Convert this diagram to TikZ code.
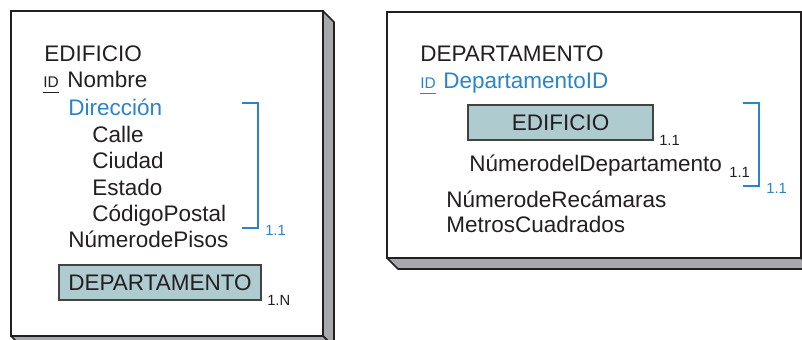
\documentclass[tikz,border=0pt]{standalone}
\usepackage{fontspec}
\setmainfont{Liberation Sans}
\usepackage{tikz}
\usetikzlibrary{positioning}
\definecolor{ink}{RGB}{35,31,32}
\definecolor{idblue}{RGB}{42,132,200}
\definecolor{boxfill}{RGB}{174,203,208}
\definecolor{shadowgray}{RGB}{166,168,171}
\tikzset{
  entbox/.style={draw=ink,line width=1.1pt,fill=white},
  shade3d/.style={draw=ink,line width=1.1pt,fill=shadowgray,line join=round},
  attr/.style={anchor=base west,inner sep=0pt,text=ink,font=\fontsize{16}{19}\selectfont},
  idmark/.style={anchor=base west,inner sep=0pt,text=ink,font=\fontsize{11}{12}\selectfont},
  idline/.style={line width=0.7pt,draw=ink},
  card/.style={anchor=base west,inner sep=0pt,text=ink,font=\fontsize{10.5}{12}\selectfont},
  refbox/.style={draw=ink!85,line width=1pt,fill=boxfill,minimum height=0.875cm,
                 inner sep=0pt,text=ink,font=\fontsize{16}{19}\selectfont},
  bracket/.style={draw=idblue,line width=0.9pt}
}
\begin{document}
\begin{tikzpicture}[x=0.025cm,y=-0.025cm]
  \useasboundingbox (0,0) rectangle (802,340);
  \clip (0,0) rectangle (802,340);

  % EDIFICIO card with its raised edge
  \draw[shade3d] (323,11) -- (334,22) -- (334,347) -- (323,336) -- cycle;
  \draw[shade3d] (11,336) -- (22,347) -- (334,347) -- (323,336) -- cycle;
  \draw[entbox] (11,11) rectangle (323,336);

  \node[attr] (edif) at (44,62) {EDIFICIO};
  \node[idmark] (idA) at (43,88) {ID};
  \draw[idline] ([yshift=-1mm]idA.base west) -- ([yshift=-1mm]idA.base east);
  \node[attr] (nombre) at (67,88) {Nombre};
  \node[attr,text=idblue] (dir) at (68,115.5) {Dirección};
  \foreach \t/\n [count=\i] in {Calle/calle,Ciudad/ciudad,Estado/estado,CódigoPostal/cpostal}
    \node[attr] (\n) at (92,{115.5+26.55*\i}) {\t};
  \draw[bracket] (242,103) -| (258,228) -- (242,228);
  \node[card,text=idblue] (cardA) at (265,236) {1.1};
  \node[attr] (pisos) at (68,248) {NúmerodePisos};
  \node[refbox,minimum width=5.05cm] (deptRef) at (160,282.5) {DEPARTAMENTO};
  \node[card] (cardN) at (267,306) {1.N};

  % DEPARTAMENTO card, runs off the right edge
  \draw[shade3d] (801,12) -- (812,23) -- (812,269) -- (801,258) -- cycle;
  \draw[shade3d] (387,258) -- (398,269) -- (812,269) -- (801,258) -- cycle;
  \draw[entbox] (387,12) rectangle (801,258);

  \node[attr] (dept) at (420,62) {DEPARTAMENTO};
  \node[idmark,text=idblue] (idB) at (420,89) {ID};
  \draw[idline,draw=idblue] ([yshift=-1mm]idB.base west) -- ([yshift=-1mm]idB.base east);
  \node[attr,text=idblue] (deptid) at (443,89) {DepartamentoID};
  \node[refbox,minimum width=4.625cm] (edifRef) at (560.5,122.5) {EDIFICIO};
  \node[card] (cardE) at (659,146) {1.1};
  \node[attr] (numdep) at (469,172) {NúmerodelDepartamento};
  \node[card] (cardD) at (729,178) {1.1};
  \draw[bracket] (743,103) -| (759,186) -- (743,186);
  \node[card,text=idblue] (cardB) at (766,194) {1.1};
  \node[attr] (recam) at (446,207.7) {NúmerodeRecámaras};
  \node[attr] (metros) at (446,233) {MetrosCuadrados};
\end{tikzpicture}
\end{document}
